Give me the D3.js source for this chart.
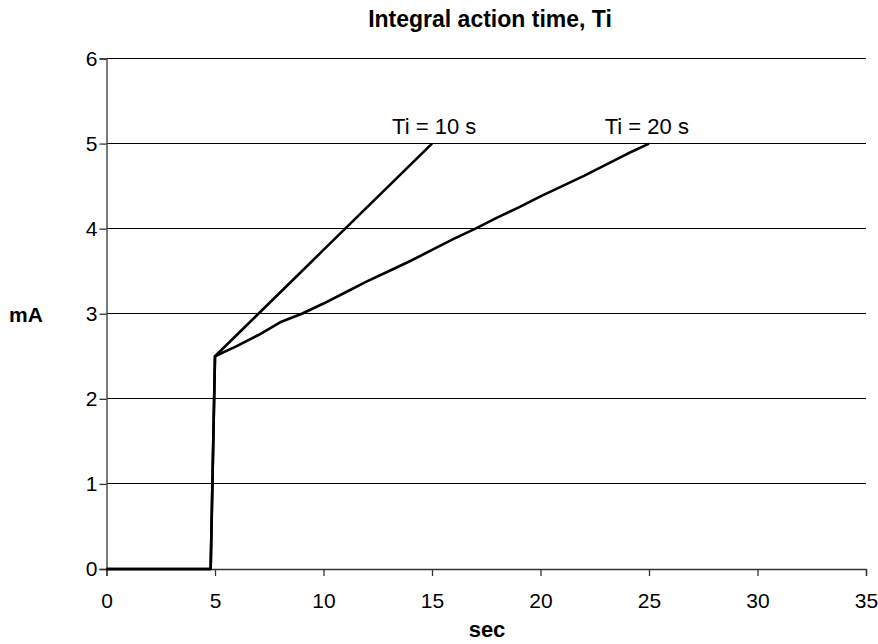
<!DOCTYPE html>
<html>
<head>
<meta charset="utf-8">
<script src="https://cdn.jsdelivr.net/npm/d3@7/dist/d3.min.js"></script>
<style>
  html, body { margin: 0; padding: 0; background: #fff; }
  svg { display: block; font-family: "Liberation Sans", Arial, sans-serif; }
</style>
</head>
<body>
<svg id="chart" width="878" height="644"></svg>
<script>
// ---- data ----
const title = "Integral action time, Ti";
const xLabel = "sec";
const yLabel = "mA";
const xTicks = [0, 5, 10, 15, 20, 25, 30, 35];
const yTicks = [0, 1, 2, 3, 4, 5, 6];

const ti10Time  = [0, 4.8, 5, 6, 7, 8, 9, 10, 11, 12, 13, 14, 15];
const ti10Value = [0, 0, 2.5, 2.75, 3.0, 3.25, 3.5, 3.75, 4.0, 4.25, 4.5, 4.75, 5.0];

const ti20Time  = [0, 4.8, 5, 6, 7, 8, 9, 10, 11, 12, 13, 14, 15, 16, 17, 18, 19, 20, 21, 22, 23, 24, 25];
const ti20Value = [0, 0, 2.5, 2.62, 2.75, 2.9, 3.0, 3.12, 3.25, 3.38, 3.5, 3.62, 3.75, 3.88, 4.0, 4.13, 4.25, 4.38, 4.5, 4.62, 4.75, 4.88, 5.0];

const seriesLabels = ["Ti = 10 s", "Ti = 20 s"];
const labelX = [15.1, 24.9];
const labelY = [5, 5];

// ---- layout ----
const svg = d3.select("#chart");
const margin = { left: 106.5, right: 12, top: 58.5, bottom: 75 };
const W = 878, H = 644;

const x = d3.scaleLinear().domain([0, 35]).range([margin.left, W - margin.right]);
const y = d3.scaleLinear().domain([0, 6]).range([H - margin.bottom, margin.top]);

// gridlines
svg.append("g")
  .selectAll("line")
  .data(yTicks.filter(d => d > 0))
  .join("line")
  .attr("x1", x(0)).attr("x2", x(35))
  .attr("y1", d => y(d)).attr("y2", d => y(d))
  .attr("stroke", "#000").attr("stroke-width", 1)
  .attr("shape-rendering", "crispEdges");

// x axis
const xAxis = svg.append("g")
  .attr("transform", `translate(0,${y(0)})`)
  .call(d3.axisBottom(x).tickValues(xTicks).tickSize(7).tickPadding(17).tickFormat(d3.format("d")));
// y axis
const yAxis = svg.append("g")
  .attr("transform", `translate(${x(0)},0)`)
  .call(d3.axisLeft(y).tickValues(yTicks).tickSize(7).tickPadding(2).tickFormat(d3.format("d")));

[xAxis, yAxis].forEach(g => {
  g.select(".domain").attr("stroke", "#333").attr("stroke-width", 1.3);
  g.selectAll(".tick line").attr("stroke", "#333").attr("stroke-width", 1.3);
  g.selectAll(".tick text").attr("font-size", 21).attr("fill", "#000")
    .attr("font-family", "'Liberation Sans', Arial, sans-serif");
});

// lines
const line = d3.line().x(d => x(d[0])).y(d => y(d[1]));
const s10 = ti10Time.map((t, i) => [t, ti10Value[i]]);
const s20 = ti20Time.map((t, i) => [t, ti20Value[i]]);
[s20, s10].forEach(s => {
  svg.append("path")
    .datum(s)
    .attr("d", line)
    .attr("fill", "none")
    .attr("stroke", "#000")
    .attr("stroke-width", 2.6)
    .attr("stroke-linejoin", "round");
});

// series labels
svg.append("g")
  .selectAll("text")
  .data(seriesLabels)
  .join("text")
  .attr("x", (d, i) => x(labelX[i]))
  .attr("y", (d, i) => y(labelY[i]) - 10)
  .attr("text-anchor", "middle")
  .attr("font-size", 22)
  .text(d => d);

// title
svg.append("text")
  .attr("x", 490).attr("y", 27)
  .attr("text-anchor", "middle")
  .attr("font-size", 23).attr("font-weight", "bold")
  .text(title);

// axis titles
svg.append("text")
  .attr("x", 487).attr("y", 637)
  .attr("text-anchor", "middle")
  .attr("font-size", 22).attr("font-weight", "bold")
  .text(xLabel);

svg.append("text")
  .attr("x", 26).attr("y", y(3) + 8)
  .attr("text-anchor", "middle")
  .attr("font-size", 21).attr("font-weight", "bold")
  .text(yLabel);
</script>
</body>
</html>
